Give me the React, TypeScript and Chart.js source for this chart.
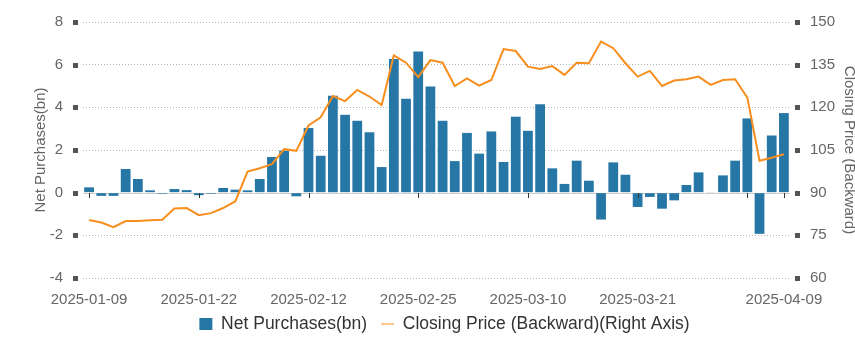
import React, { useEffect, useRef } from 'react';
import { Chart, registerables } from 'chart.js';

Chart.register(...registerables);

const categories = [
  '2025-01-09', '2025-01-10', '2025-01-13', '2025-01-14', '2025-01-15', '2025-01-16', '2025-01-17',
  '2025-01-20', '2025-01-21', '2025-01-22', '2025-01-23', '2025-01-24', '2025-01-27',
  '2025-02-05', '2025-02-06', '2025-02-07', '2025-02-10', '2025-02-11', '2025-02-12', '2025-02-13',
  '2025-02-14', '2025-02-17', '2025-02-18', '2025-02-19', '2025-02-20', '2025-02-21', '2025-02-24',
  '2025-02-25', '2025-02-26', '2025-02-27', '2025-02-28',
  '2025-03-03', '2025-03-04', '2025-03-05', '2025-03-06', '2025-03-07', '2025-03-10', '2025-03-11',
  '2025-03-12', '2025-03-13', '2025-03-14', '2025-03-17', '2025-03-18', '2025-03-19', '2025-03-20',
  '2025-03-21', '2025-03-24', '2025-03-25', '2025-03-26', '2025-03-27', '2025-03-28', '2025-03-31',
  '2025-04-01', '2025-04-02', '2025-04-03', '2025-04-07', '2025-04-08', '2025-04-09',
];

const netPurchases = [
  0.25, -0.15, -0.15, 1.11, 0.64, 0.11, -0.05, 0.17, 0.12, -0.12,
  -0.05, 0.22, 0.14, 0.11, 0.64, 1.67, 1.97, -0.17, 3.03, 1.73,
  4.54, 3.65, 3.37, 2.83, 1.2, 6.26, 4.4, 6.62, 4.98, 3.37,
  1.48, 2.8, 1.83, 2.87, 1.44, 3.56, 2.9, 4.15, 1.14, 0.41,
  1.5, 0.56, -1.26, 1.42, 0.84, -0.67, -0.2, -0.75, -0.36, 0.36,
  0.95, 0.03, 0.81, 1.5, 3.48, -1.93, 2.68, 3.73,
];

const closingPrice = [
  80.4, 79.5, 77.9, 80.0, 80.0, 80.3, 80.5, 84.4, 84.6, 82.1,
  82.8, 84.6, 87.0, 97.4, 98.6, 100.0, 105.3, 104.7, 113.6, 116.5,
  124.0, 122.2, 126.1, 123.8, 120.8, 138.3, 135.7, 130.6, 136.6, 135.7,
  127.5, 130.2, 127.6, 129.6, 140.5, 139.8, 134.3, 133.5, 134.5, 131.4,
  135.7, 135.5, 143.1, 140.8, 135.5, 130.8, 132.8, 127.5, 129.4, 129.9,
  130.8, 127.9, 129.6, 129.9, 123.4, 101.2, 102.3, 103.5,
];

const xTickLabels = ['2025-01-09', '2025-01-22', '2025-02-12', '2025-02-25', '2025-03-10', '2025-03-21', '2025-04-09'];
const xTickMarks = ['2025-01-09', '2025-01-22', '2025-02-12', '2025-02-25', '2025-03-10', '2025-03-21', '2025-04-03', '2025-04-09'];
const leftAxisTicks = [-4, -2, 0, 2, 4, 6, 8];
const rightAxisTicks = [60, 75, 90, 105, 120, 135, 150];

const BAR_COLOR = '#2676a6';
const LINE_COLOR = '#f78e1e';
const FONT = '"Liberation Sans", Arial, sans-serif';

const decorPlugin = {
  id: 'decor',
  beforeDatasetsDraw(chart: any) {
    const { ctx, chartArea, scales } = chart;
    const y0 = Math.round(scales.y.getPixelForValue(0)) + 0.5;
    ctx.save();
    ctx.strokeStyle = '#cccccc';
    ctx.lineWidth = 1;
    ctx.beginPath();
    ctx.moveTo(chartArea.left, y0);
    ctx.lineTo(chartArea.right, y0);
    ctx.stroke();
    ctx.restore();
  },
  afterDatasetsDraw(chart: any) {
    const { ctx, scales } = chart;
    const y0 = Math.round(scales.y.getPixelForValue(0));
    ctx.save();
    ctx.strokeStyle = '#333333';
    ctx.lineWidth = 1;
    xTickMarks.forEach((d) => {
      const idx = categories.indexOf(d);
      const x = Math.round(scales.x.getPixelForValue(idx)) + 0.5;
      ctx.beginPath();
      ctx.moveTo(x, y0);
      ctx.lineTo(x, y0 + 5);
      ctx.stroke();
    });
    ctx.restore();
  },
  afterDraw(chart: any) {
    const { ctx, chartArea, scales } = chart;
    ctx.save();
    ctx.fillStyle = '#555555';
    leftAxisTicks.forEach((v) => {
      const y = Math.round(scales.y.getPixelForValue(v));
      ctx.fillRect(chartArea.left - 10, y - 2, 5, 5);
    });
    rightAxisTicks.forEach((v) => {
      const y = Math.round(scales.y1.getPixelForValue(v));
      ctx.fillRect(chartArea.right + 5, y - 2, 5, 5);
    });
    ctx.restore();
  },
};

export default function App() {
  const ref = useRef<HTMLCanvasElement | null>(null);

  useEffect(() => {
    if (!ref.current) return;
    const chart = new Chart(ref.current, {
      type: 'bar',
      data: {
        labels: categories,
        datasets: [
          {
            type: 'bar',
            label: 'Net Purchases(bn)',
            data: netPurchases,
            backgroundColor: BAR_COLOR,
            borderWidth: 0,
            yAxisID: 'y',
            barPercentage: 0.8,
            categoryPercentage: 1,
            order: 1,
          },
          {
            type: 'line',
            label: 'Closing Price (Backward)(Right Axis)',
            data: closingPrice,
            borderColor: LINE_COLOR,
            backgroundColor: LINE_COLOR,
            borderWidth: 2,
            pointRadius: 0,
            tension: 0,
            yAxisID: 'y1',
            order: 0,
          } as any,
        ],
      },
      options: {
        responsive: false,
        animation: false,
        layout: { padding: { left: 34, right: 0, top: 22, bottom: 7.25 } },
        plugins: {
          tooltip: { enabled: false },
          legend: {
            position: 'bottom',
            labels: {
              usePointStyle: true,
              boxHeight: 12,
              pointStyleWidth: 13,
              padding: 14,
              color: '#333333',
              font: { family: FONT, size: 17.5 },
              sort: (a: any, b: any) => a.datasetIndex - b.datasetIndex,
              generateLabels: (c: any) => {
                const items = (Chart.defaults.plugins.legend.labels as any).generateLabels(c);
                return items.map((it: any) =>
                  it.datasetIndex === 0
                    ? { ...it, pointStyle: 'rect', lineWidth: 0, fillStyle: BAR_COLOR }
                    : { ...it, pointStyle: 'line', lineWidth: 1.2, strokeStyle: LINE_COLOR }
                );
              },
            },
          },
        },
        scales: {
          x: {
            type: 'category',
            offset: true,
            grid: { display: false, drawTicks: false },
            border: { display: false },
            ticks: {
              autoSkip: false,
              maxRotation: 0,
              minRotation: 0,
              padding: 13,
              color: '#666666',
              font: { family: FONT, size: 15 },
              callback: (_v: any, i: number) => (xTickLabels.includes(categories[i]) ? categories[i] : ''),
            },
            afterFit: (s: any) => {
              s.height = 23.25;
              s._computeLabelArea = () => undefined;
            },
          },
          y: {
            type: 'linear',
            position: 'left',
            min: leftAxisTicks[0],
            max: leftAxisTicks[leftAxisTicks.length - 1],
            grid: {
              drawTicks: false,
              color: (c: any) => (c.tick && c.tick.value === 0 ? 'rgba(0,0,0,0)' : '#b5b5b5'),
              lineWidth: 1,
            },
            border: { display: false, dash: [1, 2] },
            ticks: {
              stepSize: 2,
              padding: 20,
              color: '#666666',
              font: { family: FONT, size: 15 },
            },
            title: {
              display: true,
              text: 'Net Purchases(bn)',
              color: '#666666',
              font: { family: FONT, size: 15 },
              padding: { top: -2, bottom: 0 },
            },
            afterFit: (s: any) => {
              s.width = 49;
              s.paddingTop = 0;
              s.paddingBottom = 0;
              s._computeLabelArea = () => undefined;
            },
          },
          y1: {
            type: 'linear',
            position: 'right',
            min: rightAxisTicks[0],
            max: rightAxisTicks[rightAxisTicks.length - 1],
            grid: { display: false, drawTicks: false },
            border: { display: false },
            ticks: {
              stepSize: 15,
              padding: 20,
              color: '#666666',
              font: { family: FONT, size: 15 },
            },
            title: {
              display: true,
              text: 'Closing Price (Backward)',
              color: '#666666',
              font: { family: FONT, size: 15 },
              padding: { top: -3, bottom: 0 },
            },
            afterFit: (s: any) => {
              s.width = 65;
              s.paddingTop = 0;
              s.paddingBottom = 0;
              s._computeLabelArea = () => undefined;
            },
          },
        },
      } as any,
      plugins: [decorPlugin],
    });
    return () => chart.destroy();
  }, []);

  return (
    <div style={{ position: 'fixed', left: 0, top: 0, width: 855, height: 350, background: '#ffffff' }}>
      <canvas ref={ref} width={855} height={350} style={{ display: 'block', width: 855, height: 350 }} />
    </div>
  );
}
